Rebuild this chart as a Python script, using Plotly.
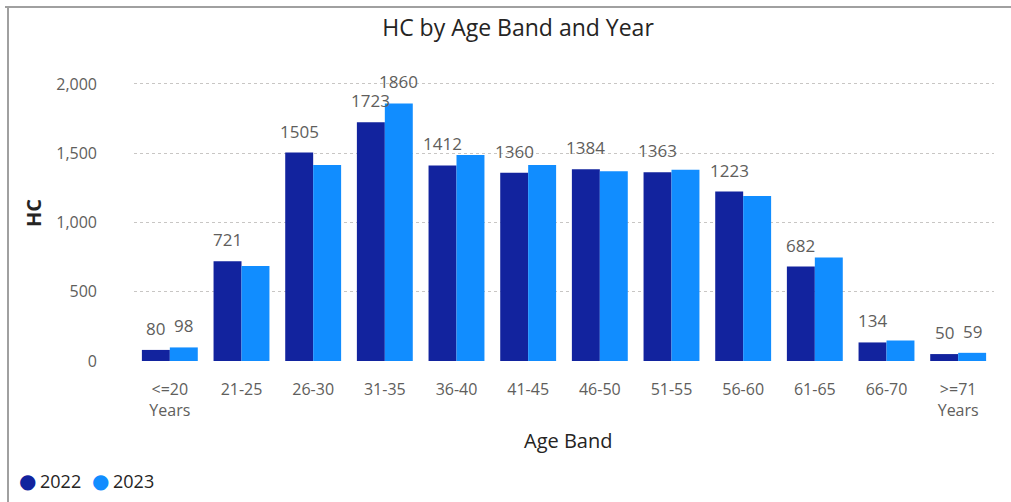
import plotly.graph_objects as go

# Head count by age band, two years
age_bands = ["<=20 Years", "21-25", "26-30", "31-35", "36-40", "41-45",
             "46-50", "51-55", "56-60", "61-65", "66-70", ">=71 Years"]
tick_labels = ["&lt;=20<br>Years", "21-25", "26-30", "31-35", "36-40", "41-45",
               "46-50", "51-55", "56-60", "61-65", "66-70", "&gt;=71<br>Years"]
hc_2022 = [80, 721, 1505, 1723, 1412, 1360, 1384, 1363, 1223, 682, 134, 50]
hc_2023 = [98, 685, 1416, 1860, 1487, 1416, 1370, 1380, 1192, 747, 148, 59]
# which 2023 values get a data label (others would collide with 2022 labels)
show_2023_label = [True, False, False, True, False, False,
                   False, False, False, False, False, True]
years = ["2022", "2023"]

C2022 = "#12239E"
C2023 = "#118DFF"
FONT = "Segoe UI, Open Sans, sans-serif"
LABEL_GREY = "#605E5C"
DARK = "#252423"

# plot area in pixels
W, H = 1011, 502
L, R, T, B = 134, 17, 70, 141
PW, PH = W - L - R, H - T - B
BARGAP = 0.22
N = len(age_bands)
BAR_PX = PW / N * (1 - BARGAP) / 2   # width of one bar in pixels


def px_x(x):
    return (x - L) / PW


def px_y(y):
    return (H - B - y) / PH


fig = go.Figure()
for vals, name, col in ((hc_2022, years[0], C2022), (hc_2023, years[1], C2023)):
    fig.add_trace(go.Bar(
        x=age_bands, y=vals, name=name, marker_color=col,
        marker_line_width=0, showlegend=False,
        hovertemplate="%{x}<br>" + name + ": %{y}<extra></extra>",
    ))

# data labels above the bars
label_sets = (
    (hc_2022, [True] * N, -BAR_PX / 2),
    (hc_2023, show_2023_label, BAR_PX / 2),
)
for vals, shows, dx in label_sets:
    for cat, v, s in zip(age_bands, vals, shows):
        if not s:
            continue
        fig.add_annotation(
            x=cat, y=v, text=str(v), showarrow=False,
            xanchor="center", yanchor="bottom", xshift=dx, yshift=8,
            font=dict(family=FONT, size=17, color=LABEL_GREY),
        )

fig.update_layout(
    width=W, height=H,
    margin=dict(l=L, r=R, t=T, b=B, autoexpand=False),
    paper_bgcolor="white", plot_bgcolor="white",
    barmode="group", bargap=BARGAP, bargroupgap=0,
    title=dict(text="HC by Age Band and Year", x=518 / W,
               xanchor="center", y=1 - 28 / H, yanchor="middle",
               font=dict(family=FONT, size=23, color=DARK)),
    showlegend=False,
    font=dict(family=FONT),
)
fig.update_xaxes(
    tickvals=age_bands, ticktext=tick_labels,
    tickfont=dict(family=FONT, size=16, color=LABEL_GREY),
    showgrid=False, showline=False, zeroline=False, ticks="",
    ticklabelstandoff=17, automargin=False,
)
fig.update_yaxes(
    range=[0, 2101], tickvals=[0, 500, 1000, 1500, 2000], tickformat=",",
    tickfont=dict(family=FONT, size=16, color=LABEL_GREY),
    showgrid=True, gridcolor="#C8C6C4", griddash="dot", gridwidth=1,
    zeroline=False, showline=False, ticks="", ticklabelstandoff=36,
    automargin=False,
)

# axis titles
fig.add_annotation(text="Age Band", xref="paper", yref="paper",
                   x=px_x(568), y=px_y(440), xanchor="center", yanchor="middle",
                   showarrow=False, font=dict(family=FONT, size=20, color=DARK))
fig.add_annotation(text="<b>HC</b>", xref="paper", yref="paper", textangle=-90,
                   x=px_x(33), y=px_y(213), xanchor="center", yanchor="middle",
                   showarrow=False, font=dict(family=FONT, size=20, color=DARK))

# legend with circular markers
for i, (yr, col) in enumerate(zip(years, (C2022, C2023))):
    x0 = 27 + 73 * i
    fig.add_annotation(text="●", xref="paper", yref="paper",
                       x=px_x(x0), y=px_y(481), xanchor="center", yanchor="middle",
                       showarrow=False, font=dict(family="DejaVu Sans", size=20, color=col))
    fig.add_annotation(text=yr, xref="paper", yref="paper",
                       x=px_x(x0 + 11), y=px_y(481), xanchor="left", yanchor="middle",
                       showarrow=False, font=dict(family=FONT, size=18, color=DARK))

# visual frame (top and left edges)
fig.add_shape(type="line", xref="paper", yref="paper",
              x0=px_x(5), x1=px_x(W), y0=px_y(7), y1=px_y(7),
              line=dict(color="#A0A0A0", width=2), layer="above")
fig.add_shape(type="line", xref="paper", yref="paper",
              x0=px_x(8), x1=px_x(8), y0=px_y(H), y1=px_y(7),
              line=dict(color="#A0A0A0", width=2), layer="above")

fig.write_html("out.html")
